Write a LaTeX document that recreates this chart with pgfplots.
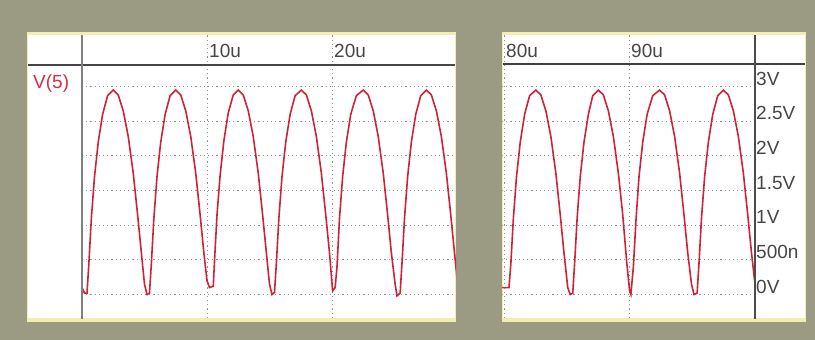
\documentclass[border=0pt]{standalone}
\usepackage{fontspec}
\setmainfont{Liberation Sans}
\usepackage{pgfplots}
\pgfplotsset{compat=1.18}
\definecolor{bgcol}{RGB}{155,155,132}
\definecolor{panelyel}{RGB}{242,238,175}
\definecolor{curvered}{RGB}{205,35,55}
\definecolor{labred}{RGB}{208,48,64}
\definecolor{tickgray}{RGB}{70,70,70}
\pgfplotsset{
  scopestyle/.style={
    scale only axis,
    height=283pt,
    ymin=-0.339, ymax=3.745,
    axis line style={draw=none},
    major tick length=0pt,
    minor tick length=0pt,
    ytick={0,0.5,1,1.5,2,2.5,3},
    grid=major,
    major grid style={gray!85, line width=0.9pt, dash pattern=on 1.2pt off 3pt},
    xticklabel pos=upper,
    /pgf/number format/assume math mode=true,
    xticklabel style={anchor=base west, inner sep=0pt, xshift=2pt, yshift=-23pt,
      font=\fontsize{19}{19}\selectfont, text=tickgray},
    clip=true,
  }
}
\begin{document}
\begin{tikzpicture}[x=1pt,y=1pt]
\path[use as bounding box] (0,0) rectangle (815,340);
\fill[bgcol] (0,0) rectangle (815,340);
% panels
\fill[panelyel] (27,18) rectangle (456,308);
\fill[white] (28,22) rectangle (455,305);
\fill[panelyel] (502,18) rectangle (806,308);
\fill[white] (503,22) rectangle (805,305);

\begin{axis}[scopestyle, at={(82pt,22pt)}, anchor=south west,
  width=374pt, xmin=0, xmax=29.92,
  xtick={10,20}, xticklabels={10u,20u},
  yticklabels={}]
\addplot[curvered, line width=1.6pt] coordinates {
(0,0.10)
(0.20,0.02)(0.40,0.02)(0.55,0.45)(0.75,1.10)(1.00,1.70)(1.30,2.20)(1.65,2.60)(2.05,2.87)(2.50,2.95)(2.90,2.88)(3.30,2.65)(3.70,2.28)(4.10,1.75)(4.45,1.15)(4.75,0.60)(5.00,0.15)
(5.20,0.00)(5.40,0.02)(5.55,0.45)(5.75,1.10)(6.00,1.70)(6.30,2.20)(6.65,2.60)(7.05,2.87)(7.50,2.95)(7.90,2.88)(8.30,2.65)(8.70,2.28)(9.10,1.75)(9.45,1.15)(9.75,0.60)(10.00,0.20)
(10.20,0.10)(10.50,0.12)(10.62,0.55)(10.80,1.15)(11.05,1.72)(11.35,2.22)(11.70,2.62)(12.10,2.88)(12.50,2.95)(12.90,2.88)(13.30,2.65)(13.70,2.28)(14.10,1.75)(14.45,1.15)(14.75,0.60)(15.00,0.15)
(15.20,0.00)(15.40,0.03)(15.55,0.45)(15.75,1.10)(16.00,1.70)(16.30,2.20)(16.65,2.60)(17.05,2.87)(17.55,2.95)(17.95,2.88)(18.35,2.65)(18.75,2.28)(19.15,1.75)(19.50,1.15)(19.80,0.60)(20.05,0.05)
(20.25,0.10)(20.40,0.40)(20.60,1.10)(20.85,1.70)(21.15,2.20)(21.50,2.60)(21.95,2.87)(22.50,2.95)(22.90,2.88)(23.30,2.65)(23.70,2.28)(24.10,1.75)(24.45,1.15)(24.75,0.60)(25.05,0.15)
(25.20,-0.02)(25.45,0.02)(25.60,0.45)(25.80,1.10)(26.05,1.70)(26.35,2.20)(26.70,2.60)(27.10,2.87)(27.55,2.95)(27.95,2.88)(28.35,2.65)(28.75,2.28)(29.15,1.75)(29.50,1.15)(29.80,0.60)(30.05,0.15)
};
\end{axis}

\begin{axis}[scopestyle, at={(502pt,22pt)}, anchor=south west,
  width=253pt, xmin=79.84, xmax=100.08,
  xtick={80,90}, xticklabels={80u,90u},
  yticklabel pos=right,
  yticklabels={0V,500n,1V,1.5V,2V,2.5V,3V},
  yticklabel style={anchor=base west, inner sep=0pt, xshift=1pt, yshift=1.5pt,
      font=\fontsize{19}{19}\selectfont, text=tickgray}]
\addplot[curvered, line width=1.6pt] coordinates {
(79.85,0.10)(80.40,0.10)(80.55,0.45)(80.75,1.10)(81.00,1.70)(81.30,2.20)(81.65,2.60)(82.05,2.87)(82.55,2.95)(82.95,2.88)(83.35,2.65)(83.75,2.28)(84.15,1.75)(84.50,1.15)(84.80,0.60)(85.10,0.10)
(85.30,0.00)(85.50,0.02)(85.65,0.45)(85.85,1.10)(86.10,1.70)(86.40,2.20)(86.75,2.60)(87.10,2.87)(87.55,2.95)(87.95,2.88)(88.35,2.65)(88.75,2.28)(89.15,1.75)(89.50,1.15)(89.80,0.50)(90.05,0.05)
(90.15,0.00)(90.35,0.40)(90.55,1.05)(90.80,1.70)(91.10,2.20)(91.45,2.60)(91.90,2.87)(92.45,2.95)(92.85,2.88)(93.25,2.65)(93.65,2.28)(94.05,1.75)(94.40,1.15)(94.70,0.60)(95.00,0.15)
(95.20,0.00)(95.45,0.02)(95.60,0.45)(95.80,1.10)(96.05,1.70)(96.35,2.20)(96.70,2.60)(97.10,2.87)(97.55,2.95)(97.95,2.88)(98.35,2.65)(98.75,2.28)(99.15,1.75)(99.50,1.15)(99.80,0.60)(100.05,0.20)(100.20,0.00)
};
\end{axis}

% separators
\draw[gray!55!black, line width=1.5pt] (28,275) -- (455,275);
\draw[gray, line width=2pt] (82,305) -- (82,21);
\draw[black!75, line width=1.5pt] (503,276) -- (805,276);
\draw[black!70, line width=1.5pt] (755,305) -- (755,21);
\node[anchor=base west, inner sep=0pt, text=labred, font=\fontsize{19}{19}\selectfont] at (33,251) {V(5)};
\end{tikzpicture}
\end{document}
